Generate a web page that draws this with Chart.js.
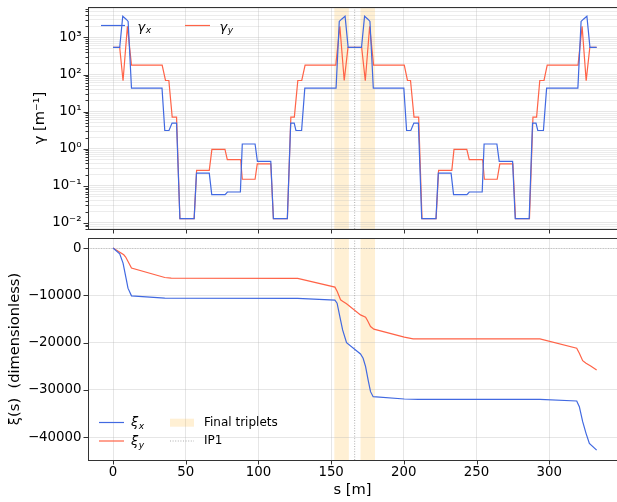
<!DOCTYPE html>
<html><head><meta charset="utf-8">
<script src="https://cdn.jsdelivr.net/npm/chart.js@4.4.0/dist/chart.umd.min.js"></script>
<style>
html,body{margin:0;padding:0;background:#fff;overflow:hidden;width:617px;height:502px}
.box{position:absolute;left:0;width:617px}
</style></head><body>
<div class="box" style="top:0;height:236px"><canvas id="c1" width="617" height="236"></canvas></div>
<div class="box" style="top:236px;height:266px"><canvas id="c2" width="617" height="266"></canvas></div>
<script>
// ---------- data ----------
const gammaXs = [0,4.6,6.7,9.0,10.4,12.7,33.7,35.6,38.5,40.6,43.7,46.0,55.8,57.4,66.2,67.9,77.1,78.7,87.6,88.9,97.7,99.3,108.5,110.3,119.9,122.2,124.6,125.8,129.7,131.9,153.4,155.6,157.2,159.6,161.7,
  170.9,173.0,175.3,176.7,179.0,200.0,201.9,204.8,206.9,210.0,212.3,222.1,223.7,232.5,234.2,243.4,245.0,253.9,255.2,264.0,265.6,274.8,276.6,286.2,288.5,290.9,292.1,296.0,298.2,319.7,321.9,323.5,325.9,328.0,332.6];
const gammaXv = [537,537,3720,3100,2700,43,43,3.1,3.1,4.9,4.9,0.013,0.013,0.22,0.22,0.058,0.058,0.068,0.068,1.34,1.34,0.455,0.455,0.013,0.013,4.9,4.9,3.1,3.1,43,43,2700,3100,3720,537,
  537,3720,3100,2700,43,43,3.1,3.1,4.9,4.9,0.013,0.013,0.22,0.22,0.058,0.058,0.068,0.068,1.34,1.34,0.455,0.455,0.013,0.013,4.9,4.9,3.1,3.1,43,43,2700,3100,3720,537,537];
const gammaYs = [0,4.6,6.9,9.9,12.7,33.8,36.1,38.4,40.7,43.7,46.0,55.8,57.5,66.2,68.0,77.0,78.6,87.8,88.9,97.7,99.2,108.5,110.3,119.9,122.3,124.7,127.1,129.8,132.1,153.2,156.0,159.0,161.6,
  171.0,173.5,176.5,179.2,200.3,202.5,204.6,207.0,210.2,212.5,222.2,223.9,233.0,234.5,243.3,245.0,254.2,255.4,264.2,266.0,275.0,276.8,286.4,288.8,291.3,293.5,296.4,298.6,319.8,322.6,325.4,327.9,332.6];
const gammaYv = [537,537,68,2000,180,180,69,69,7.1,7.1,0.013,0.013,0.26,0.26,0.96,0.96,0.51,0.51,0.15,0.15,0.39,0.39,0.013,0.013,7.1,7.1,69,69,180,180,2000,69,537,
  537,68,2000,180,180,69,69,7.1,7.1,0.013,0.013,0.26,0.26,0.96,0.96,0.51,0.51,0.15,0.15,0.39,0.39,0.013,0.013,7.1,7.1,69,69,180,180,2000,68,537,537];
const xiXs = [0,4.6,6.9,9.2,10.3,12.7,35.6,40,127,152.6,154.1,156.0,157.9,160.6,170.2,172.0,173.7,175.5,177.1,178.9,200.3,210,293.6,318.9,320.7,323.0,325.3,327.6,332.6];
const xiXv = [0,-1210,-3180,-6720,-8480,-10110,-10600,-10620,-10650,-11020,-11660,-14490,-17320,-20010,-22400,-23310,-25090,-27990,-30390,-31450,-31940,-32000,-32000,-32360,-33570,-36750,-39210,-41330,-42750];
const xiYs = [0,7.4,8.7,12.7,35.6,40,127,152.6,154.2,156.5,157.9,160.6,170.2,173.7,175.0,177.1,179.4,200.3,206.4,293.6,318.9,320.7,323.0,325.3,328.5,332.6];
const xiYv = [0,-1420,-1900,-4240,-6230,-6380,-6400,-8270,-9200,-10950,-11230,-11800,-14140,-14620,-15340,-16610,-17170,-18860,-19220,-19220,-21200,-22250,-23820,-24370,-24950,-25800];
const sTicks = [0,50,100,150,200,250,300];
const xiTicks = [0,-10000,-20000,-30000,-40000];
const gammaDecades = [-3,-2,-1,0,1,2,3];
const tripletBands = [[152.2,162.2],[170.2,180.2]];
const ip1 = 166.2;

// ---------- styling ----------
const FONT = 'DejaVu Sans';
const BLUE = '#4169e1', RED = '#ff6347';
const BAND = 'rgba(255,165,0,0.17)';
const GRID = 'rgba(176,176,176,0.32)', GRIDMINOR = 'rgba(176,176,176,0.24)';
const SPINE = '#333';
const pts = (xs, vs) => xs.map((s, i) => ({x: s, y: vs[i]}));
const SUP = {'-':'\u207b','0':'\u2070','1':'\u00b9','2':'\u00b2','3':'\u00b3','4':'\u2074','5':'\u2075','6':'\u2076','7':'\u2077','8':'\u2078','9':'\u2079'};
const isPow10 = v => Math.abs(Math.log10(v) - Math.round(Math.log10(v))) < 1e-9;
const noPad = s => { s.paddingTop = 0; s.paddingBottom = 0; s.paddingLeft = 0; s.paddingRight = 0; };

function symLabel(ctx, base, sub, x, y, size) {
  ctx.save();
  ctx.fillStyle = '#000';
  ctx.textBaseline = 'alphabetic';
  ctx.textAlign = 'left';
  ctx.font = 'italic ' + size + 'px "' + FONT + '"';
  ctx.fillText(base, x, y);
  const w = ctx.measureText(base).width;
  ctx.font = 'italic ' + (size * 0.7) + 'px "' + FONT + '"';
  ctx.fillText(sub, x + w + 0.5, y + size * 0.22);
  ctx.restore();
}

function makeDecor(kind) {
  return {
    id: 'decor' + kind,
    beforeDraw(chart) {
      const {ctx, chartArea: a, scales: {x}} = chart;
      ctx.save();
      ctx.fillStyle = BAND;
      tripletBands.forEach(b => {
        const x0 = x.getPixelForValue(b[0]), x1 = x.getPixelForValue(b[1]);
        ctx.fillRect(x0, a.top, x1 - x0, a.bottom - a.top);
      });
      ctx.restore();
    },
    beforeDatasetsDraw(chart) {
      const {ctx, chartArea: a, scales: {x, y}} = chart;
      ctx.save();
      ctx.strokeStyle = 'rgba(110,110,110,0.7)';
      ctx.lineWidth = 0.8;
      ctx.setLineDash([1, 1.6]);
      const xp = x.getPixelForValue(ip1);
      ctx.beginPath(); ctx.moveTo(xp, a.top); ctx.lineTo(xp, a.bottom); ctx.stroke();
      if (kind === 2) {
        ctx.strokeStyle = 'rgba(150,150,150,0.6)';
        const y0 = Math.round(y.getPixelForValue(0)) + 0.5;
        ctx.beginPath(); ctx.moveTo(a.left, y0); ctx.lineTo(a.right, y0); ctx.stroke();
      }
      ctx.restore();
    },
    afterDatasetsDraw(chart) {
      const {ctx, chartArea: a, scales: {x, y}} = chart;
      ctx.save();
      ctx.strokeStyle = SPINE; ctx.lineWidth = 1;
      ctx.strokeRect(a.left + 0.5, a.top + 0.5, a.right - a.left + 5, a.bottom - a.top);
      ctx.beginPath();
      sTicks.forEach(v => {
        const p = Math.round(x.getPixelForValue(v)) + 0.5;
        ctx.moveTo(p, a.bottom); ctx.lineTo(p, a.bottom + 4.5);
      });
      y.ticks.forEach(t => {
        const major = kind === 2 || isPow10(t.value);
        const p = Math.round(y.getPixelForValue(t.value)) + 0.5;
        ctx.moveTo(a.left - (major ? 4.5 : 2.5), p); ctx.lineTo(a.left, p);
      });
      ctx.stroke();
      ctx.lineWidth = 1.2;
      ctx.setLineDash([]);
      if (kind === 1) {
        ctx.strokeStyle = BLUE; ctx.beginPath(); ctx.moveTo(101, 25.5); ctx.lineTo(125, 25.5); ctx.stroke();
        symLabel(ctx, '\u03b3', 'x', 137.5, 30.5, 13);
        ctx.strokeStyle = RED; ctx.beginPath(); ctx.moveTo(185, 25.5); ctx.lineTo(210, 25.5); ctx.stroke();
        symLabel(ctx, '\u03b3', 'y', 219.5, 30.5, 13);
      } else {
        ctx.strokeStyle = BLUE; ctx.beginPath(); ctx.moveTo(99, 186.5); ctx.lineTo(124, 186.5); ctx.stroke();
        symLabel(ctx, '\u03be', 'x', 131, 190, 13);
        ctx.strokeStyle = RED; ctx.beginPath(); ctx.moveTo(99, 205); ctx.lineTo(124, 205); ctx.stroke();
        symLabel(ctx, '\u03be', 'y', 131, 208.7, 13);
        ctx.fillStyle = BAND; ctx.fillRect(170, 182.7, 24, 8);
        ctx.strokeStyle = 'rgba(110,110,110,0.7)'; ctx.lineWidth = 0.8; ctx.setLineDash([1, 1.6]);
        ctx.beginPath(); ctx.moveTo(170, 205); ctx.lineTo(194, 205); ctx.stroke();
        ctx.setLineDash([]);
        ctx.fillStyle = '#000'; ctx.font = '12px "' + FONT + '"';
        ctx.textBaseline = 'middle'; ctx.textAlign = 'left';
        ctx.fillText('Final triplets', 204, 186.7);
        ctx.fillText('IP1', 204, 205);
      }
      ctx.restore();
    }
  };
}

const tickFont = {family: FONT, size: 13.33};
const titleFont = {family: FONT, size: 14.67};
const xScaleBase = {
  type: 'linear', min: -17.2, max: 346.6,
  afterBuildTicks: s => { s.ticks = sTicks.map(v => ({value: v})); },
  grid: {color: GRID, drawTicks: false, lineWidth: 1},
  border: {display: false}
};

Chart.defaults.font.family = FONT;

new Chart(document.getElementById('c1'), {
  type: 'line',
  data: {datasets: [
    {label: 'γx', data: pts(gammaXs, gammaXv), borderColor: BLUE, borderWidth: 1.2, pointRadius: 0, tension: 0},
    {label: 'γy', data: pts(gammaYs, gammaYv), borderColor: RED, borderWidth: 1.2, pointRadius: 0, tension: 0}
  ]},
  options: {
    responsive: false, animation: false, devicePixelRatio: 1,
    layout: {padding: {left: 28, top: 7, right: 0, bottom: 0}},
    plugins: {legend: {display: false}, tooltip: {enabled: false}},
    scales: {
      x: Object.assign({}, xScaleBase, {ticks: {display: false}, afterFit: s => { s.height = 7; noPad(s); }}),
      y: {
        type: 'logarithmic', min: 0.00685, max: 6600,
        afterBuildTicks: s => {
          const t = [];
          gammaDecades.forEach(k => { for (let m = 1; m <= 9; m++) { const v = m * Math.pow(10, k); if (v >= 0.00685 && v <= 6600) t.push({value: v}); } });
          s.ticks = t;
        },
        ticks: {
          autoSkip: false, padding: 6.5, color: '#000', font: tickFont,
          callback: v => isPow10(v) ? '10' + String(Math.round(Math.log10(v))).split('').map(c => SUP[c]).join('') : ''
        },
        grid: {drawTicks: false, color: c => (c.tick && isPow10(c.tick.value)) ? GRID : GRIDMINOR},
        border: {display: false},
        title: {display: true, text: 'γ [m⁻¹]', color: '#000', font: titleFont, padding: {top: 3, bottom: 0}},
        afterFit: s => { s.width = 60; noPad(s); }
      }
    }
  },
  plugins: [makeDecor(1)]
});

new Chart(document.getElementById('c2'), {
  type: 'line',
  data: {datasets: [
    {label: 'ξx', data: pts(xiXs, xiXv), borderColor: BLUE, borderWidth: 1.2, pointRadius: 0, tension: 0},
    {label: 'ξy', data: pts(xiYs, xiYv), borderColor: RED, borderWidth: 1.2, pointRadius: 0, tension: 0}
  ]},
  options: {
    responsive: false, animation: false, devicePixelRatio: 1,
    layout: {padding: {left: 3, top: 2, right: 0, bottom: 0}},
    plugins: {legend: {display: false}, tooltip: {enabled: false}},
    scales: {
      x: Object.assign({}, xScaleBase, {
        ticks: {padding: 4.5, color: '#000', font: tickFont, maxRotation: 0, autoSkip: false},
        title: {display: true, text: 's [m]', color: '#000', font: titleFont, padding: {top: 0, bottom: 3}},
        afterFit: s => { s.height = 42; noPad(s); }
      }),
      y: {
        type: 'linear', min: -44850, max: 2130,
        afterBuildTicks: s => { s.ticks = xiTicks.map(v => ({value: v})); },
        ticks: {autoSkip: false, padding: 6.5, color: '#000', font: tickFont,
          callback: v => v < 0 ? '\u2212' + Math.abs(v) : String(v)},
        grid: {drawTicks: false, color: GRID},
        border: {display: false},
        title: {display: true, text: 'ξ(s)  (dimensionless)', color: '#000', font: titleFont, padding: {top: 3, bottom: 0}},
        afterFit: s => { s.width = 85; noPad(s); }
      }
    }
  },
  plugins: [makeDecor(2)]
});
</script>
</body></html>
